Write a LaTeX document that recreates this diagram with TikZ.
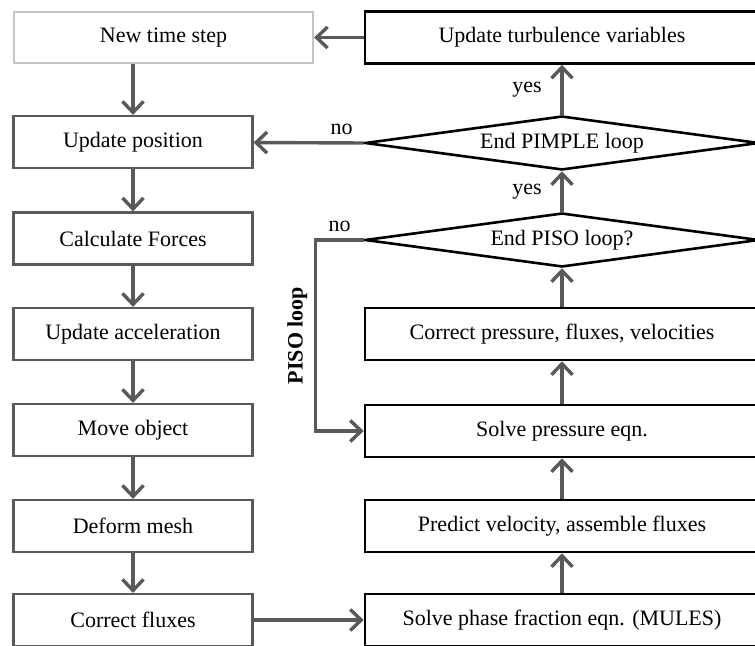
\documentclass[tikz,border=0pt]{standalone}
\usepackage{fontspec}
\setmainfont{Liberation Serif}
\usepackage{tikz}
\usetikzlibrary{arrows.meta,shapes.geometric}
\definecolor{flowgray}{HTML}{595959}
\definecolor{startgray}{HTML}{C4C4C4}

\begin{document}
\begin{tikzpicture}[x=0.5pt, y=-0.5pt, every node/.style={font=\fontsize{11}{13}\selectfont, text=black}, >={Straight Barb[length=5.5pt,width=10.5pt]},
	lbox/.style={draw=flowgray, line width=1.1pt, minimum width=119.5pt, minimum height=26pt, inner sep=0pt},
	rbox/.style={draw=black, line width=1.3pt, minimum width=197pt, minimum height=26pt, inner sep=0pt},
	test/.style={draw=black, line width=1.3pt, diamond, aspect=7.3, minimum width=197pt, minimum height=27pt, inner sep=0pt},
	flow/.style={->, line width=1.7pt, flowgray}]
	\useasboundingbox (0,0) rectangle (755,646);
	% left column: motion of the body
	\node[lbox, draw=startgray, minimum width=149.5pt, minimum height=25.5pt] (newstep) at (163.5,37.5) {New time step};
	\node[lbox] (updpos) at (133,142) {Update position};
	\node[lbox] (forces) at (133,238.5) {Calculate Forces};
	\node[lbox] (accel) at (133,334) {Update acceleration};
	\node[lbox] (move) at (133,430) {Move object};
	\node[lbox] (deform) at (133,526) {Deform mesh};
	\node[lbox] (corrflux) at (133,620) {Correct fluxes};
	% right column: flow solver
	\node[rbox] (turb) at (562,37.5) {Update turbulence variables};
	\node[test] (pimple) at (562,143) {End PIMPLE loop};
	\node[test] (piso) at (562,240) {End PISO loop?};
	\node[rbox] (corrp) at (562,334) {Correct pressure, fluxes, velocities};
	\node[rbox] (solvep) at (562,431) {Solve pressure eqn.};
	\node[rbox] (predict) at (562,526) {Predict velocity, assemble fluxes};
	\node[rbox] (phase) at (562,620) {Solve phase fraction eqn. (MULES)};
	\foreach \a/\b in {updpos/forces, forces/accel, accel/move, move/deform, deform/corrflux, phase/predict, predict/solvep, solvep/corrp, corrp/piso} {\draw[flow] (\a) -- (\b);}
	\draw[flow] (updpos |- newstep.south) -- (updpos);
	\draw[flow] (corrflux) -- (phase);
	\draw[flow] (piso) -- node[midway, left=6pt] {yes} (pimple);
	\draw[flow] (pimple) -- node[midway, left=6pt] {yes} (turb);
	\draw[flow] (turb) -- (newstep);
	\draw[flow] (pimple.west) -- node[pos=0.2, above] {no} (updpos);
	\draw[flow] (piso.west) -- node[midway, above] {no} ++(-48,0) |- node[pos=0.25, left, rotate=90, anchor=south, font=\fontsize{11}{13}\selectfont\bfseries] (pisolabel) {PISO loop} (solvep.west);
\end{tikzpicture}
\end{document}
